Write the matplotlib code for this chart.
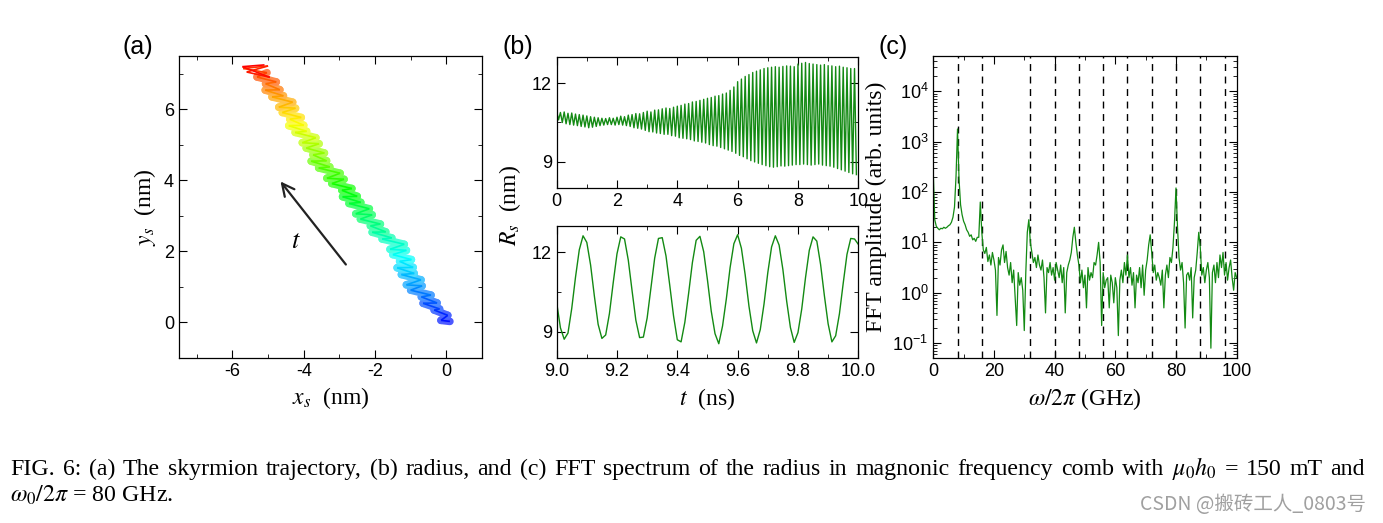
import numpy as np
import matplotlib.pyplot as plt
from matplotlib.collections import LineCollection
from matplotlib.ticker import MultipleLocator, LogLocator, NullFormatter, FixedLocator

plt.rcParams['font.family'] = ['Liberation Sans', 'DejaVu Sans']
plt.rcParams['mathtext.fontset'] = 'stix'
plt.rcParams['axes.unicode_minus'] = False
for ax_ in ('xtick', 'ytick'):
    plt.rcParams[ax_ + '.direction'] = 'in'
    plt.rcParams[ax_ + '.major.size'] = 6
    plt.rcParams[ax_ + '.minor.size'] = 3
    plt.rcParams[ax_ + '.labelsize'] = 13
plt.rcParams['xtick.top'] = True
plt.rcParams['ytick.right'] = True
plt.rcParams['axes.linewidth'] = 0.9

# (a) skyrmion trajectory, blue (start) -> red (end)
traj_x = [0.10, -0.15, 0.04, -0.34, -0.19, -0.65, -0.26, -0.70, -0.43, -1.00,
          -0.68, -1.12, -0.71, -1.26, -0.90, -1.38, -0.93, -1.31, -0.98, -1.50,
          -1.12, -1.58, -1.18, -1.80, -1.53, -2.08, -1.70, -2.13, -1.85, -2.41,
          -2.08, -2.54, -2.16, -2.73, -2.40, -2.91, -2.50, -2.93, -2.65, -3.21,
          -2.87, -3.35, -2.98, -3.58, -3.27, -3.79, -3.36, -3.74, -3.42, -3.93,
          -3.57, -4.04, -3.66, -4.24, -3.92, -4.42, -4.00, -4.39, -4.07, -4.60,
          -4.23, -4.70, -4.31, -4.89, -4.57, -5.08, -4.67, -5.07, -4.77, -5.31,
          -5.03, -5.70, -5.00, -5.60, -4.95, -5.72, -5.10]
traj_y = [0.03, 0.06, 0.20, 0.35, 0.38, 0.54, 0.55, 0.72, 0.77, 0.91,
          1.03, 1.06, 1.20, 1.35, 1.38, 1.54, 1.55, 1.72, 1.77, 1.91,
          2.03, 2.06, 2.20, 2.35, 2.38, 2.54, 2.55, 2.72, 2.77, 2.91,
          3.03, 3.06, 3.20, 3.35, 3.38, 3.54, 3.55, 3.72, 3.77, 3.91,
          4.03, 4.06, 4.20, 4.35, 4.38, 4.54, 4.55, 4.72, 4.77, 4.91,
          5.03, 5.06, 5.20, 5.35, 5.38, 5.54, 5.55, 5.72, 5.77, 5.91,
          6.03, 6.06, 6.20, 6.35, 6.38, 6.54, 6.55, 6.72, 6.77, 6.91,
          7.03, 7.15, 7.22, 7.05, 6.90, 7.20, 7.25]

# (b) radius, 0-10 ns: peak and trough of every oscillation
r_peak = [10.92, 10.88, 10.90, 10.85, 10.86, 10.82, 10.80, 10.78,
          10.75, 10.72, 10.70, 10.68, 10.66, 10.65, 10.68, 10.66,
          10.70, 10.74, 10.72, 10.78, 10.80, 10.84, 10.83, 10.88,
          10.93, 10.90, 10.97, 10.98, 11.02, 11.05, 11.03, 11.08,
          11.12, 11.15, 11.20, 11.22, 11.28, 11.30, 11.34, 11.38,
          11.42, 11.45, 11.50, 11.52, 11.58, 11.62, 11.72, 11.85,
          12.05, 12.15, 12.25, 12.32, 12.40, 12.45, 12.50, 12.55,
          12.58, 12.60, 12.62, 12.60, 12.63, 12.65, 12.64, 12.62,
          12.72, 12.75, 12.78, 12.74, 12.72, 12.70, 12.68, 12.70,
          12.66, 12.65, 12.62, 12.64, 12.60, 12.58, 12.55, 12.55]
r_trough = [10.60, 10.50, 10.45, 10.42, 10.40, 10.38, 10.35, 10.33,
            10.30, 10.32, 10.35, 10.38, 10.40, 10.42, 10.42, 10.40,
            10.42, 10.40, 10.38, 10.35, 10.30, 10.28, 10.25, 10.20,
            10.15, 10.14, 10.10, 10.08, 10.05, 10.05, 10.00, 9.98,
            9.92, 9.90, 9.88, 9.85, 9.80, 9.78, 9.75, 9.72,
            9.66, 9.62, 9.60, 9.55, 9.50, 9.45, 9.40, 9.33,
            9.25, 9.20, 9.12, 9.05, 9.00, 8.95, 8.90, 8.86,
            8.82, 8.80, 8.82, 8.85, 8.84, 8.86, 8.88, 8.90,
            8.90, 8.92, 8.90, 8.88, 8.90, 8.92, 8.88, 8.86,
            8.84, 8.80, 8.75, 8.70, 8.65, 8.60, 8.55, 8.52]

# (b) radius, zoom 9-10 ns, every 0.0125 ns
r_zoom = [10.10, 9.15, 8.72, 8.95, 9.88, 11.06, 12.09, 12.62, 12.37, 11.52,
          10.35, 9.28, 8.75, 8.88, 9.69, 10.85, 11.94, 12.58, 12.50, 11.70,
          10.55, 9.44, 8.78, 8.80, 9.52, 10.65, 11.78, 12.52, 12.55, 11.86,
          10.75, 9.60, 8.70, 8.62, 9.36, 10.45, 11.61, 12.45, 12.60, 12.02,
          10.95, 9.78, 8.93, 8.55, 9.22, 10.24, 11.42, 12.32, 12.66, 12.15,
          11.15, 9.97, 9.04, 8.58, 9.08, 10.05, 11.23, 12.20, 12.62, 12.27,
          11.35, 10.16, 9.16, 8.60, 8.97, 9.86, 11.04, 12.07, 12.58, 12.42,
          11.54, 10.37, 9.30, 8.62, 8.85, 9.68, 10.83, 11.92, 12.52, 12.50,
          12.30]

# (c) FFT spectrum, log10 amplitude every 0.5 GHz
fft_log = [2.40, 1.45, 1.32, 1.28, 1.25, 1.28, 1.27, 1.30, 1.28, 1.30,
           1.33, 1.35, 1.40, 1.50, 1.70, 2.30, 3.25, 2.25, 1.75, 1.55,
           1.42, 1.35, 1.25, 1.20, 1.12, 1.15, 1.05, 1.08, 1.02, 1.10,
           1.10, 1.80, 1.20, 0.85, 0.78, 0.90, 0.62, 0.75, 0.55, 0.80,
           0.65, 0.45, -0.45, 0.70, 0.55, 0.85, 0.95, 0.60, 0.82, 0.50,
           0.35, 0.60, 0.20, 0.45, -0.10, -0.65, 0.40, 0.15, 0.30, 0.05,
           -0.75, 0.40, 1.20, 1.45, 1.00, 0.80, 0.60, 0.70, 0.50, 0.75,
           0.55, 0.45, 0.65, 0.30, -0.40, 0.50, 0.40, 0.60, 0.35, 0.50,
           0.25, 0.60, 0.45, 0.30, 0.55, 0.20, 0.50, -0.40, 0.40, 0.55,
           0.65, 0.80, 1.10, 1.30, 1.00, 0.75, 0.55, 0.20, 0.45, 0.10,
           0.35, -0.30, 0.50, 0.25, 0.40, 0.30, 0.60, 0.55, 0.75, 1.00,
           0.60, -0.65, 0.40, 0.10, 0.25, 0.30, -0.30, 0.35, 0.20, -0.20,
           0.30, 0.10, -0.85, 0.25, 0.45, 0.20, 0.60, 0.35, 0.75, 0.30,
           0.50, 0.15, 0.40, -0.30, 0.35, 0.20, 0.50, 0.10, 0.55, -0.05,
           0.45, 0.65, 0.95, 1.15, 0.80, 0.40, 0.55, 0.25, 0.40, 0.30,
           0.15, 0.45, -0.30, 0.35, 0.55, 0.30, 0.70, 0.60, 0.90, 1.40,
           2.08, 1.30, 0.70, 0.45, 0.60, 0.20, -0.70, 0.35, 0.40, 0.25,
           0.50, -0.50, 0.30, 0.45, 0.80, 1.20, 0.90, 0.35, 0.50, 0.20,
           0.45, 0.60, 0.30, -1.10, 0.40, 0.55, 0.20, 0.60, 0.30, 0.75,
           0.50, 0.80, 0.35, 0.60, 0.25, 0.50, 0.65, 0.30, 0.05, 0.40,
           0.30]
comb_lines = [8, 16, 32, 40, 48, 56, 64, 72, 80, 88, 96]

caption_1 = ('FIG. 6: (a) The skyrmion trajectory, (b) radius, and (c) FFT spectrum of the radius '
             r'in magnonic frequency comb with $\mu_0h_0$ = 150 mT and')
caption_2 = r'$\omega_0/2\pi$ = 80 GHz.'

green = '#138a13'
serif = dict(family=['Liberation Serif', 'DejaVu Serif'], size=17)

fig = plt.figure(figsize=(13.83, 5.23), dpi=100)

# ---- (a)
ax1 = fig.add_axes([0.1294, 0.3155, 0.2191, 0.5774])
pts = np.column_stack([traj_x, traj_y])
segs = np.stack([pts[:-1], pts[1:]], axis=1)
cmap = plt.get_cmap('hsv')
cols = cmap(np.linspace(0.667, 0.0, len(segs)))
soft = cols.copy()
soft[:, :3] = soft[:, :3] * 0.7 + 0.3
# pale wide pass gives the band, thin pass on top keeps the jagged path
ax1.add_collection(LineCollection(segs[:-6], colors=soft[:-6], linewidths=5.5,
                                  capstyle='round', joinstyle='round'))
ax1.add_collection(LineCollection(segs, colors=cols, linewidths=1.2))
ax1.annotate('', xy=(-4.7, 4.03), xytext=(-2.77, 1.57),
             arrowprops=dict(arrowstyle='->', color='#222222', lw=1.6, mutation_scale=22))
ax1.text(-4.23, 2.29, '$t$', fontsize=19, ha='center', va='center')
ax1.set_xlim(-7.5, 1)
ax1.set_ylim(-1, 7.5)
ax1.xaxis.set_major_locator(FixedLocator([-6, -4, -2, 0]))
ax1.xaxis.set_minor_locator(FixedLocator([-7, -5, -3, -1, 1]))
ax1.yaxis.set_major_locator(FixedLocator([0, 2, 4, 6]))
ax1.yaxis.set_minor_locator(FixedLocator([-1, 1, 3, 5, 7]))
ax1.set_xlabel('$x_s$  (nm)', fontdict=serif)
ax1.set_ylabel('$y_s$  (nm)', fontdict=serif)

# ---- (b) top
ax2 = fig.add_axes([0.4025, 0.640, 0.2181, 0.2516])
r_full = np.empty(2 * len(r_peak))
r_full[0::2] = r_peak
r_full[1::2] = r_trough
t_full = np.arange(len(r_full)) * 0.0625
ax2.plot(t_full, r_full, color=green, lw=1.0)
ax2.set_xlim(0, 10)
ax2.set_ylim(8, 13)
ax2.xaxis.set_major_locator(MultipleLocator(2))
ax2.xaxis.set_minor_locator(MultipleLocator(1))
ax2.yaxis.set_major_locator(FixedLocator([9, 12]))
ax2.yaxis.set_minor_locator(FixedLocator([10.5]))

# ---- (b) bottom
ax3 = fig.add_axes([0.4025, 0.3149, 0.2181, 0.2535])
t_zoom = 9.0 + np.arange(len(r_zoom)) * 0.0125
ax3.plot(t_zoom, r_zoom, color=green, lw=1.0)
ax3.set_xlim(9, 10)
ax3.set_ylim(8, 13)
ax3.xaxis.set_major_locator(MultipleLocator(0.2))
ax3.xaxis.set_minor_locator(MultipleLocator(0.1))
ax3.xaxis.set_major_formatter(plt.FormatStrFormatter('%.1f'))
ax3.yaxis.set_major_locator(FixedLocator([9, 12]))
ax3.yaxis.set_minor_locator(FixedLocator([10.5]))
ax3.set_xlabel('$t$  (ns)', fontdict=serif)
fig.text(0.369, 0.608, '$R_s$  (nm)', rotation=90, ha='center', va='center', **serif)

# ---- (c)
ax4 = fig.add_axes([0.6748, 0.3149, 0.2194, 0.578])
freq = np.arange(len(fft_log)) * 0.5
for f in comb_lines:
    ax4.axvline(f, color='black', lw=1.0, ls=(0, (5, 4)))
ax4.plot(freq, 10 ** np.array(fft_log), color=green, lw=0.9)
ax4.set_yscale('log')
ax4.set_xlim(0, 100)
ax4.set_ylim(0.05, 5e4)
ax4.xaxis.set_major_locator(MultipleLocator(20))
ax4.xaxis.set_minor_locator(MultipleLocator(10))
ax4.yaxis.set_major_locator(LogLocator(base=10, numticks=10))
ax4.yaxis.set_minor_locator(LogLocator(base=10, subs=np.arange(2, 10), numticks=20))
ax4.yaxis.set_minor_formatter(NullFormatter())
ax4.set_xlabel(r'$\omega/2\pi$ (GHz)', fontdict=serif)
ax4.set_ylabel('FFT amplitude (arb. units)', fontdict=serif, labelpad=4)

for ax in (ax1, ax2, ax3, ax4):
    ax.tick_params(which='both', top=True, right=True)

fig.text(0.0998, 0.910, '(a)', fontsize=18, ha='center', va='center')
fig.text(0.3745, 0.910, '(b)', fontsize=18, ha='center', va='center')
fig.text(0.6457, 0.910, '(c)', fontsize=18, ha='center', va='center')

# caption: first line justified between x=10 and x=1365 px
cap = dict(family=['Liberation Serif', 'DejaVu Serif'], size=17.2)
W = fig.get_figwidth() * fig.dpi
renderer = fig.canvas.get_renderer()
words = [fig.text(0, 0.091, w, ha='left', va='baseline', **cap) for w in caption_1.split(' ')]
widths = [t.get_window_extent(renderer).width for t in words]
gap = (1355 - sum(widths)) / (len(words) - 1)
xpos = 10.0
for t, w in zip(words, widths):
    t.set_x(xpos / W)
    xpos += w + gap
fig.text(10 / W, 0.040, caption_2, ha='left', va='baseline', **cap)
fig.text(0.988, 0.036, 'CSDN @搬砖工人_0803号', ha='right', va='center', fontsize=14,
         color='#a0a0a0', family=['Noto Sans CJK SC', 'DejaVu Sans'])

fig.savefig('out.png', dpi=100)
